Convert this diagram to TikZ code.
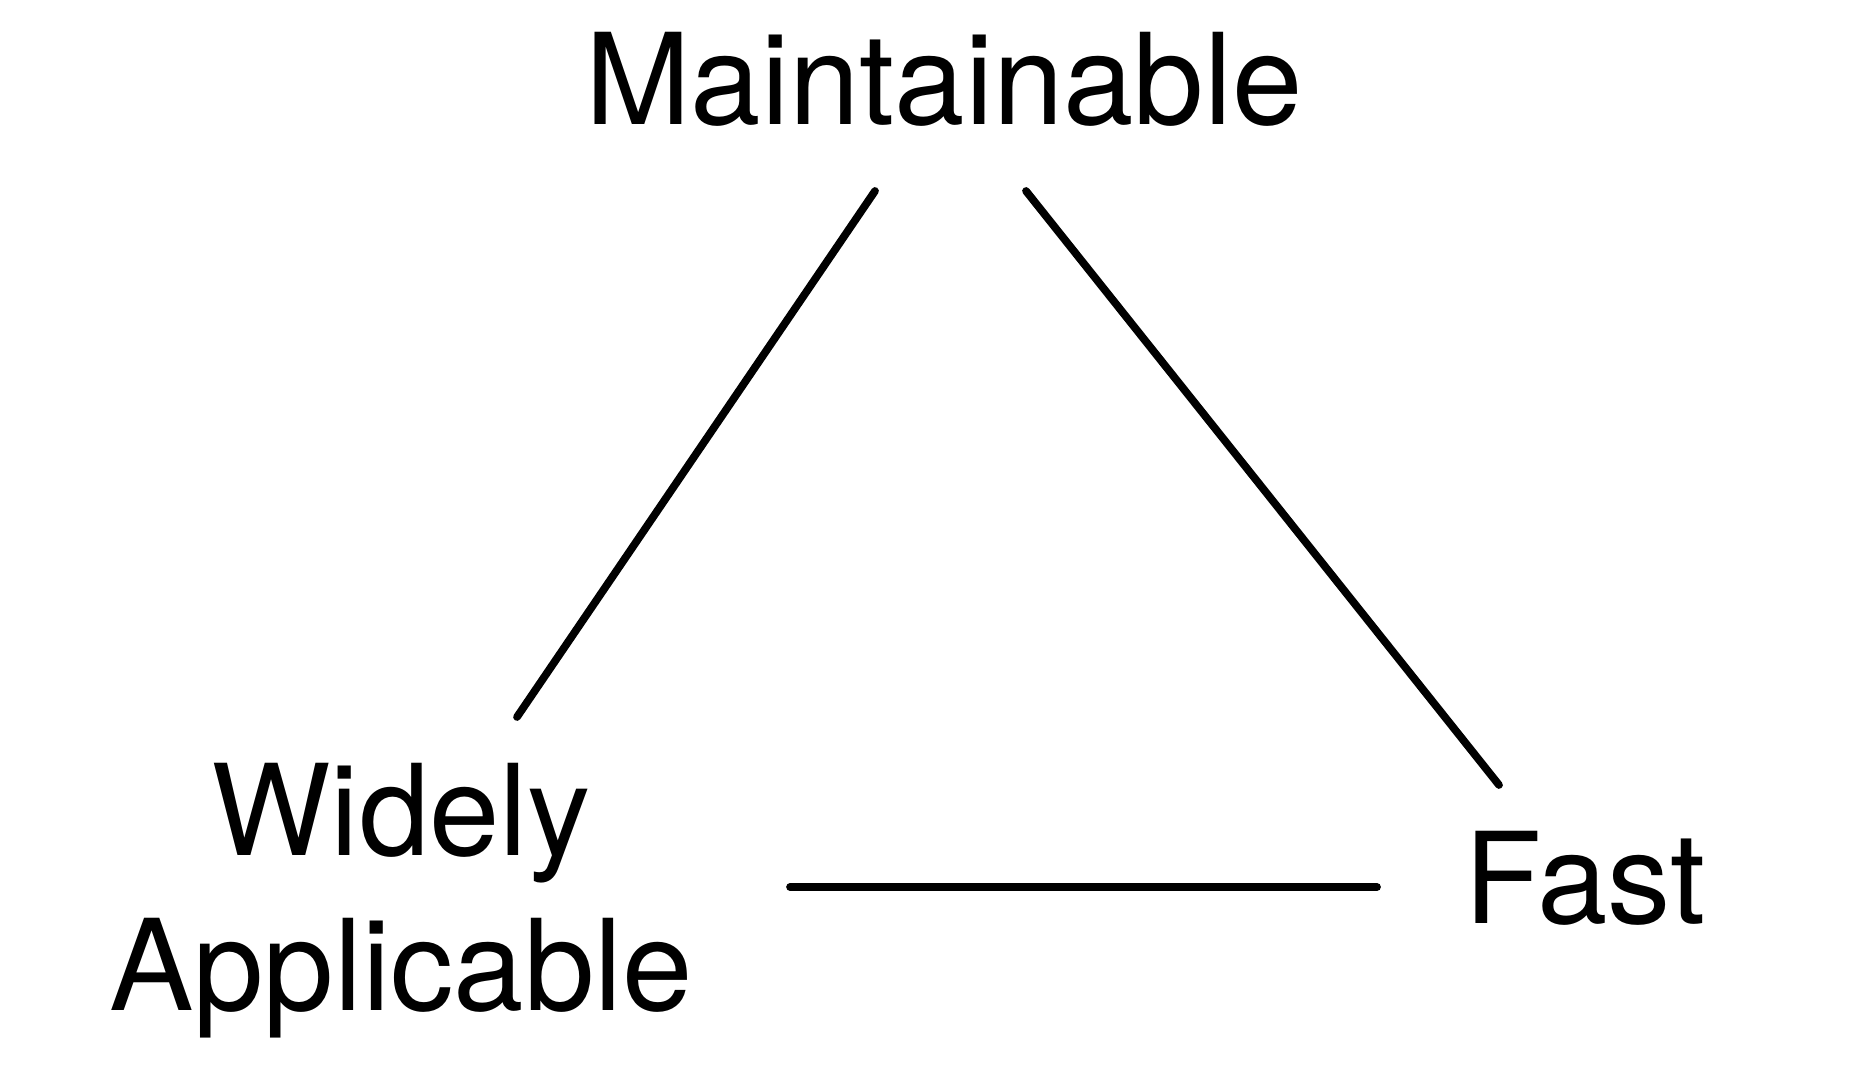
\documentclass[tikz,border=0pt]{standalone}
\usepackage{fontspec}
\setmainfont{TeX Gyre Heros}
\begin{document}
\begin{tikzpicture}[x=0.01cm, y=-0.01cm, line join=round, line cap=round]
	\tikzset{lbl/.style={anchor=base, inner sep=0pt, font=\fontsize{36}{44}\selectfont, align=center},
		edge/.style={line width=2.2pt}}
	\useasboundingbox (0,0) rectangle (1874,1074);
	% labels
	\node[lbl] (maint) at (944,125) {Maintainable};
	\node[lbl] (wide) at (401,1010) {Widely\\Applicable};
	\node[lbl] (fast) at (1585,923) {Fast};
	% line ends
	\coordinate (mw) at (875,191);
	\coordinate (wm) at (517,717);
	\coordinate (mf) at (1026,191);
	\coordinate (fm) at (1499,785);
	\coordinate (wf) at (790,887);
	\coordinate (fw) at (1377,887);
	\draw[edge] (wm)--(mw);
	\draw[edge] (mf)--(fm);
	\draw[edge] (wf)--(fw);
\end{tikzpicture}
\end{document}
